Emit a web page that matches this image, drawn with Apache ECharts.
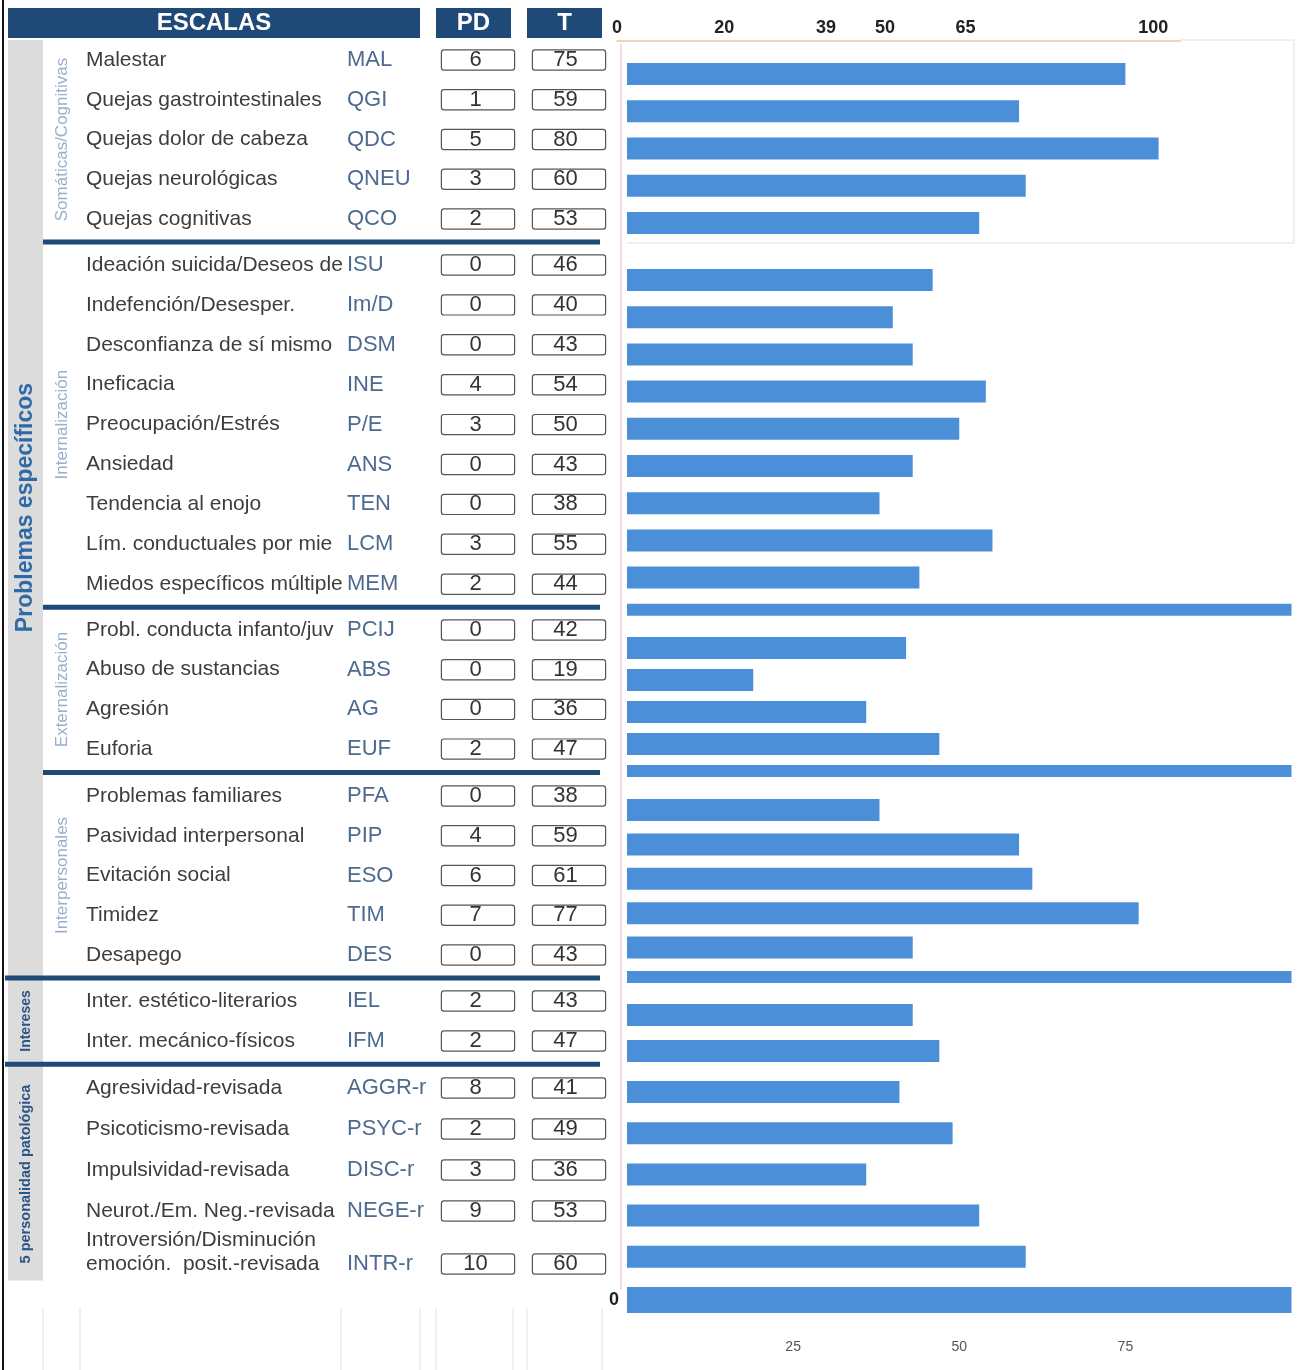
<!DOCTYPE html>
<html><head><meta charset="utf-8">
<script src="https://cdn.jsdelivr.net/npm/echarts@6/dist/echarts.min.js"></script>
<style>html,body{margin:0;padding:0;background:#fff}#c{width:1299px;height:1370px}</style>
</head><body><div id="c"></div>
<script>
// ---------------- DATA ----------------
const scaleNames = ['Malestar','Quejas gastrointestinales','Quejas dolor de cabeza','Quejas neurológicas','Quejas cognitivas',
  'Ideación suicida/Deseos de muerte','Indefención/Desesper.','Desconfianza de sí mismo','Ineficacia','Preocupación/Estrés','Ansiedad','Tendencia al enojo','Lím. conductuales por miedo','Miedos específicos múltiples',
  'Probl. conducta infanto/juvenil','Abuso de sustancias','Agresión','Euforia',
  'Problemas familiares','Pasividad interpersonal','Evitación social','Timidez','Desapego',
  'Inter. estético-literarios','Inter. mecánico-físicos',
  'Agresividad-revisada','Psicoticismo-revisada','Impulsividad-revisada','Neurot./Em. Neg.-revisada','Introversión/Disminución\nemoción.  posit.-revisada'];
const scaleAbbr = ['MAL','QGI','QDC','QNEU','QCO','ISU','Im/D','DSM','INE','P/E','ANS','TEN','LCM','MEM','PCIJ','ABS','AG','EUF','PFA','PIP','ESO','TIM','DES','IEL','IFM','AGGR-r','PSYC-r','DISC-r','NEGE-r','INTR-r'];
const pdScores = [6,1,5,3,2, 0,0,0,4,3,0,0,3,2, 0,0,0,2, 0,4,6,7,0, 2,2, 8,2,3,9,10];
const tScores  = [75,59,80,60,53, 46,40,43,54,50,43,38,55,44, 42,19,36,47, 38,59,61,77,43, 43,47, 41,49,36,53,60];
const sectionSizes = [5,9,4,5,2,5];
const subscaleLabels = ['Somáticas/Cognitivas','Internalización','Externalización','Interpersonales'];
const groupLabels = ['Problemas específicos','Intereses','5 personalidad patológica'];
const headerLabels = ['ESCALAS','PD','T'];
const topTickValues = [0,20,39,50,65,100];
const bottomTickValues = [25,50,75];
const dividerValue = 100;
const dividerAfter = [false,true,true,true,false,false];
const totalLabel = '0';
const totalValue = 100;

// ---------------- LAYOUT ----------------
const textRow0 = [60,265,630,796,1001,1088];
const textPitch = [39.75,39.9,39.7,39.75,40,41];
const barRow0 = [69,275,643,805,1010,1094];
const barPitch = [37.25,37.2,32,34.4,36,41.2];
const NAVY = '#1f4a78', BAR = '#4a8fd8';
const nameFont = '21px "Liberation Sans"';
const mctx = document.createElement('canvas').getContext('2d');
mctx.font = nameFont;
function fit(s, w){
  if (mctx.measureText(s).width <= w) return s;
  while (s.length && mctx.measureText(s).width > w) s = s.slice(0,-1);
  return s;
}
function esc(s){ return String(s).replace(/[{}|]/g,''); }

const grids=[], xAxes=[], yAxes=[], series=[], graphic=[];
let offset = 0;
const textTops=[], textBottoms=[];
const boxStyle = {height:19, align:'center', fontSize:22, fontFamily:'Liberation Sans', color:'#333', lineHeight:24,
  borderColor:'#555', borderWidth:1.2, borderRadius:2, backgroundColor:'#fff'};
sectionSizes.forEach((n, s) => {
  const names = scaleNames.slice(offset, offset+n);
  const abbr = scaleAbbr.slice(offset, offset+n);
  const pd = pdScores.slice(offset, offset+n);
  const ts = tScores.slice(offset, offset+n);
  // ---- text grid (table rows) ----
  const tTop = textRow0[s] - textPitch[s]/2, tH = textPitch[s]*n;
  textTops.push(tTop); textBottoms.push(tTop+tH);
  const gi = grids.length;
  grids.push({left:626, width:1, top:tTop, height:tH});
  xAxes.push({gridIndex:gi, type:'value', min:0, max:1, show:false});
  yAxes.push({gridIndex:gi, type:'category', inverse:true, data:abbr,
    axisLine:{show:false}, axisTick:{show:false}, splitLine:{show:false},
    axisLabel:{show:true, interval:0, align:'left', margin:626-86,
      formatter:(v, i) => {
        const parts = names[i].split('\n');
        const last = parts[parts.length-1];
        let pre = '';
        if (parts.length > 1) pre = parts.slice(0,-1).map(p => '{n|'+esc(p)+'}').join('\n') + '\n';
        return pre + '{n|'+esc(fit(last, 257))+'}{a|'+esc(abbr[i])+'}{p|'+pd[i]+'}{s|}{t|'+ts[i]+'}';
      },
      rich:{
        n:{width:261, fontSize:21, fontFamily:'Liberation Sans', color:'#3d3d3d', lineHeight:24},
        a:{width:95, fontSize:22, fontFamily:'Liberation Sans', color:'#4d6b8f', lineHeight:24},
        p:Object.assign({}, boxStyle, {width:67, padding:[0,5,0,0]}),
        s:{width:19, lineHeight:24},
        t:Object.assign({}, boxStyle, {width:65, padding:[0,7,0,0]})
      }}});
  // ---- bar grid ----
  const cats = abbr.slice();
  const tData = ts.slice();
  const dData = ts.map(() => '-');
  let extraW = 12;
  if (dividerAfter[s]) { cats.push('div'+s); tData.push('-'); dData.push(dividerValue); }
  if (s === sectionSizes.length-1) { cats.push(totalLabel); tData.push('-'); dData.push(totalValue); extraW = 26; }
  const m = cats.length;
  const bTop = barRow0[s] - barPitch[s]/2, bH = barPitch[s]*m;
  const bi = grids.length;
  grids.push({left:627, width:664.5, top:bTop, height:bH});
  const isLast = s === sectionSizes.length-1;
  xAxes.push({gridIndex:bi, type:'value', min:0, max:100, show:isLast,
    axisLine:{show:false}, axisTick:{show:false}, splitLine:{show:false},
    axisLabel:{show:isLast, customValues:bottomTickValues, fontSize:14, color:'#555', margin:20, fontFamily:'Liberation Sans'}});
  yAxes.push({gridIndex:bi, type:'category', inverse:true, data:cats,
    axisLine:{show:false}, axisTick:{show:false}, splitLine:{show:false},
    axisLabel:{show:isLast, interval:0, margin:8, fontSize:18, fontWeight:'bold', color:'#222',
      formatter:v => v === totalLabel ? v : ''}});
  series.push({type:'bar', xAxisIndex:bi, yAxisIndex:bi, data:tData, barWidth:22, barGap:'-100%',
    itemStyle:{color:BAR}, silent:true});
  series.push({type:'bar', xAxisIndex:bi, yAxisIndex:bi, data:dData, barWidth:extraW, barGap:'-100%',
    itemStyle:{color:BAR}, silent:true});
  offset += n;
});

// ---- top axis grid ----
const ti = grids.length;
grids.push({left:617, width:563, top:40, height:1});
xAxes.push({gridIndex:ti, type:'value', position:'top', min:0, max:105,
  axisLine:{show:true, lineStyle:{color:'#e9c89a', width:1.5}}, axisTick:{show:false}, splitLine:{show:false},
  axisLabel:{customValues:topTickValues, fontSize:18, fontWeight:'bold', color:'#222', margin:3, fontFamily:'Liberation Sans'}});
yAxes.push({gridIndex:ti, type:'value', show:false});

// ---------------- GRAPHIC ----------------
graphic.push({type:'line', shape:{x1:3,y1:0,x2:3,y2:1370}, style:{stroke:'#111', lineWidth:2}});
const hdr = [[8,412],[436,75],[527,75]];
hdr.forEach((h, i) => {
  graphic.push({type:'rect', shape:{x:h[0], y:8, width:h[1], height:30}, style:{fill:NAVY}});
  graphic.push({type:'text', x:h[0]+h[1]/2, y:23, style:{text:headerLabels[i], fill:'#fff', font:'bold 24px "Liberation Sans"', align:'center', verticalAlign:'middle'}});
});
const bandBottom = textBottoms[5] + 8;
graphic.push({type:'rect', shape:{x:8, y:40, width:35, height:bandBottom-40}, style:{fill:'#dcdcdc'}});
graphic.push({type:'line', shape:{x1:621,y1:44,x2:621,y2:1290}, style:{stroke:'#f2d3cc', lineWidth:1.5}});
graphic.push({type:'polyline', shape:{points:[[1180,40],[1294,40],[1294,243],[627,243]]}, style:{stroke:'#ebebeb', lineWidth:1.5, fill:null}});
for (let s = 0; s < sectionSizes.length-1; s++) {
  const y = (textBottoms[s] + textTops[s+1]) / 2;
  const x0 = s >= 3 ? 5 : 43;
  graphic.push({type:'line', shape:{x1:x0,y1:y,x2:600,y2:y}, style:{stroke:NAVY, lineWidth:5}});
}
subscaleLabels.forEach((t, s) => {
  const cy = (textTops[s] + textBottoms[s]) / 2;
  graphic.push({type:'text', x:62, y:cy, rotation:Math.PI/2, style:{text:t, fill:'#98afca', font:'17px "Liberation Sans"', align:'center', verticalAlign:'middle'}});
});
graphic.push({type:'text', x:26, y:(textTops[0]+textBottoms[3])/2, rotation:Math.PI/2,
  style:{text:groupLabels[0], fill:'#2f6aa6', font:'bold 23px "Liberation Sans"', align:'center', verticalAlign:'middle'}});
graphic.push({type:'text', x:26, y:(textTops[4]+textBottoms[4])/2, rotation:Math.PI/2,
  style:{text:groupLabels[1], fill:'#2b5585', font:'bold 14px "Liberation Sans"', align:'center', verticalAlign:'middle'}});
graphic.push({type:'text', x:26, y:(textTops[5]+bandBottom)/2, rotation:Math.PI/2,
  style:{text:groupLabels[2], fill:'#2b5585', font:'bold 14.5px "Liberation Sans"', align:'center', verticalAlign:'middle'}});
[43,80,341,420,436,513,527,602].forEach(x => {
  graphic.push({type:'line', shape:{x1:x,y1:1308,x2:x,y2:1370}, style:{stroke:'#e2e2e2', lineWidth:1}});
});

const chart = echarts.init(document.getElementById('c'), null, {renderer:'canvas'});
chart.setOption({
  backgroundColor:'#fff',
  animation:false,
  textStyle:{fontFamily:'Liberation Sans'},
  grid:grids, xAxis:xAxes, yAxis:yAxes, series:series, graphic:graphic
});
</script></body></html>
